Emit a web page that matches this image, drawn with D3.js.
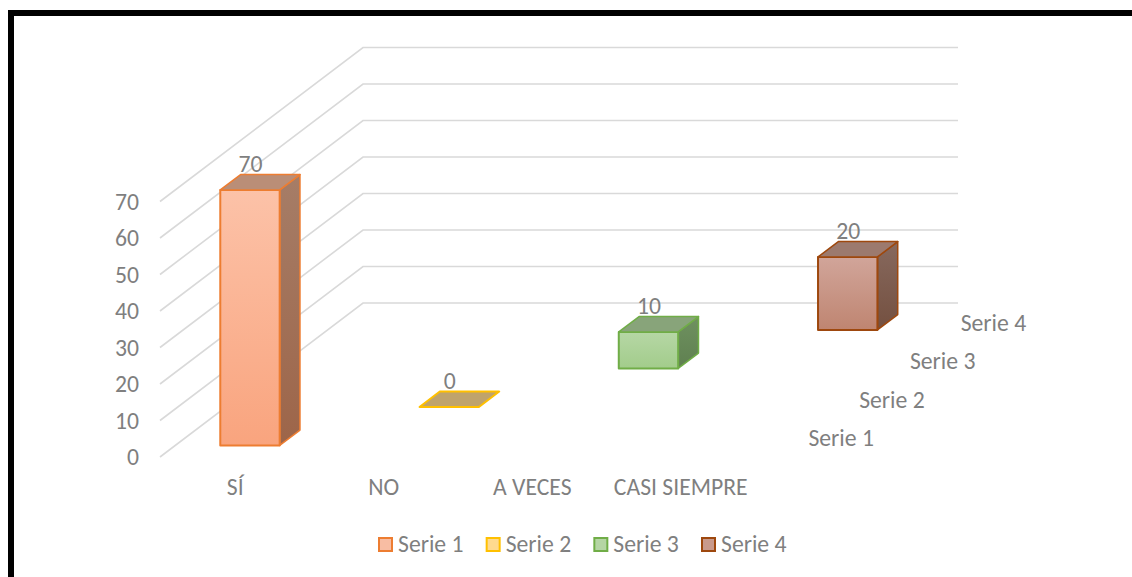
<!DOCTYPE html>
<html>
<head>
<meta charset="utf-8">
<script src="https://cdn.jsdelivr.net/npm/d3@7/dist/d3.min.js"></script>
<style>
html,body{margin:0;padding:0;background:#fff;overflow:hidden}
svg{display:block}
text{font-family:Carlito,Lato,"Open Sans",sans-serif;fill:#7f7f7f;font-size:23.7px}
</style>
</head>
<body>
<svg id="c" width="1132" height="577"></svg>
<script>
const categories = ["SÍ", "NO", "A VECES", "CASI SIEMPRE"];
const seriesNames = ["Serie 1", "Serie 2", "Serie 3", "Serie 4"];
const serie1 = [70, null, null, null];
const serie2 = [null, 0, null, null];
const serie3 = [null, null, 10, null];
const serie4 = [null, null, null, 20];
const allSeries = [serie1, serie2, serie3, serie4];
const valueTicks = [0, 10, 20, 30, 40, 50, 60, 70];
const strokes = ["#ed7d31", "#ffc000", "#70ad47", "#9e480e"];
const frontTop = ["#fcc2a8", "#ffdf9a", "#b6d7a5", "#d1a59a"];
const frontBottom = ["#f9a47e", "#ffd266", "#a2cc8b", "#bf8571"];
const sideTop = ["#a67d67", "#a88a50", "#6f9160", "#87695e"];
const sideBottom = ["#9d6549", "#a88a50", "#5f8050", "#745040"];
const topFace = ["#ba8e77", "#bfa36c", "#88a47a", "#9c7a6e"];
const legendFill = ["#f8bda3", "#ffda8f", "#b5d5a4", "#c99a8c"];

const svg = d3.select("#c");

// black page frame, open to the right and bottom
svg.append("path").attr("d", d3.line()([[11, 577], [11, 13], [1132, 13]]))
  .attr("fill", "none").attr("stroke", "#000").attr("stroke-width", 6);

const x = d3.scaleBand().domain(categories).range([160.5, 754.5]).paddingInner(0.6).paddingOuter(0.3);
const y = d3.scaleLinear().domain([0, 70]).range([457, 201.5]);
const z = d3.scaleBand().domain(seriesNames).range([0, 1]).paddingInner(0.6).paddingOuter(0.3);
const depthX = d3.scaleLinear().domain([0, 1]).range([0, 203]);
const depthY = d3.scaleLinear().domain([0, 1]).range([0, -154]);
const pt = (px, d, v) => [px + depthX(d), y(v) + depthY(d)];
const poly = d3.line();

// gridlines: side wall + back wall
svg.append("g").selectAll("path").data(valueTicks).join("path")
  .attr("d", v => poly([pt(160, 0, v), pt(160, 1, v), pt(755, 1, v)]))
  .attr("fill", "none").attr("stroke", "#d9d9d9").attr("stroke-width", 1.6);

// gradients
const defs = svg.append("defs");
function grad(id, a, b) {
  const g = defs.append("linearGradient").attr("id", id).attr("x1", 0).attr("x2", 0).attr("y1", 0).attr("y2", 1);
  g.append("stop").attr("offset", "0%").attr("stop-color", a);
  g.append("stop").attr("offset", "100%").attr("stop-color", b);
}
seriesNames.forEach((s, i) => {
  grad("f" + i, frontTop[i], frontBottom[i]);
  grad("s" + i, sideTop[i], sideBottom[i]);
});

// bars
const bars = [];
allSeries.forEach((vals, si) => vals.forEach((v, ci) => {
  if (v !== null) bars.push({si, ci, v});
}));
const barG = svg.append("g").selectAll("g").data(bars).join("g")
  .attr("stroke-linejoin", "round");
barG.each(function (d) {
  const g = d3.select(this);
  const x0 = x(categories[d.ci]), x1 = x0 + x.bandwidth();
  const d0 = z(seriesNames[d.si]), d1 = d0 + z.bandwidth();
  const stroke = strokes[d.si];
  if (d.v > 0) {
    g.append("path").attr("d", poly([pt(x1, d0, 0), pt(x1, d1, 0), pt(x1, d1, d.v), pt(x1, d0, d.v)]) + "Z")
      .attr("fill", `url(#s${d.si})`).attr("stroke", stroke).attr("stroke-width", 1.5);
    g.append("path").attr("d", poly([pt(x0, d0, 0), pt(x1, d0, 0), pt(x1, d0, d.v), pt(x0, d0, d.v)]) + "Z")
      .attr("fill", `url(#f${d.si})`).attr("stroke", stroke).attr("stroke-width", 2);
  }
  g.append("path").attr("d", poly([pt(x0, d0, d.v), pt(x1, d0, d.v), pt(x1, d1, d.v), pt(x0, d1, d.v)]) + "Z")
    .attr("fill", topFace[d.si]).attr("stroke", stroke).attr("stroke-width", d.v > 0 ? 1.5 : 2);
});

// data labels
svg.append("g").selectAll("text").data(bars).join("text")
  .attr("text-anchor", "middle")
  .attr("x", d => pt(x(categories[d.ci]) + x.bandwidth() / 2, z(seriesNames[d.si]), d.v)[0] + 0.5)
  .attr("y", d => pt(0, z(seriesNames[d.si]) + z.bandwidth(), d.v)[1] - 3)
  .text(d => d.v);

// value axis
const yAxis = svg.append("g").attr("transform", "translate(139,0)")
  .call(d3.axisLeft(y).tickValues(valueTicks).tickSize(0).tickPadding(0));
yAxis.select(".domain").remove();
yAxis.selectAll("text").attr("fill", null);
yAxis.attr("font-family", null).attr("font-size", null);

// category axis
const xAxis = svg.append("g").attr("transform", "translate(0.5,478)")
  .call(d3.axisBottom(x).tickSize(0).tickPadding(0));
xAxis.select(".domain").remove();
xAxis.selectAll("text").attr("fill", null);
xAxis.attr("font-family", null).attr("font-size", null);

// depth axis labels
svg.append("g").selectAll("text").data(seriesNames).join("text")
  .attr("x", s => pt(754, z(s) + z.bandwidth() / 2, 0)[0] + 29)
  .attr("y", s => pt(754, z(s) + z.bandwidth() / 2, 0)[1] + 8.5)
  .text(s => s);

// legend
const legendX = d3.scalePoint().domain(seriesNames).range([379, 702]);
const leg = svg.append("g").selectAll("g").data(seriesNames).join("g")
  .attr("transform", s => `translate(${legendX(s)},538)`);
leg.append("rect").attr("width", 13).attr("height", 13)
  .attr("fill", (s, i) => legendFill[i]).attr("stroke", (s, i) => strokes[i]).attr("stroke-width", 2);
leg.append("text").attr("x", 19).attr("y", 13.5).text(s => s);
</script>
</body>
</html>
